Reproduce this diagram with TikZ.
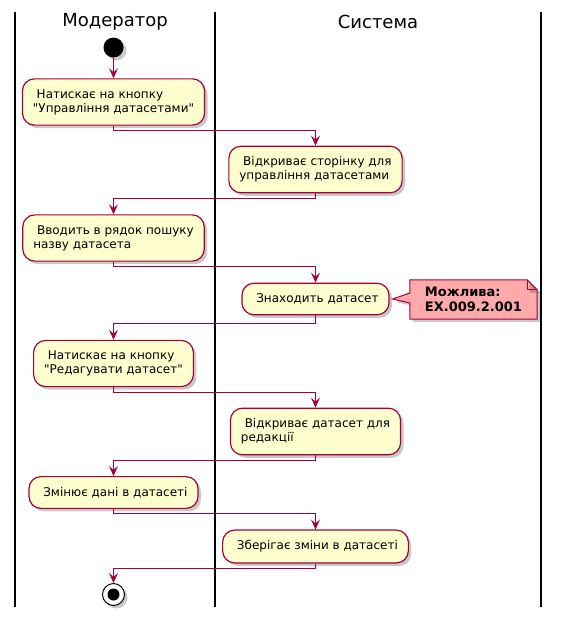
\documentclass[tikz,border=0pt]{standalone}
\usepackage{fontspec}
\setmainfont{DejaVu Sans}
\usepackage{xcolor}
\usepackage{tikz}
\usetikzlibrary{arrows.meta}
\usetikzlibrary{shapes}
\usetikzlibrary{shadows}

\definecolor{umlred}{HTML}{A80036}
\definecolor{umlfill}{HTML}{FEFECE}
\definecolor{notefill}{HTML}{FFAAAA}

\begin{document}
\begin{tikzpicture}[
	x=1pt, y=-1pt,
	font=\fontsize{12}{14}\selectfont,
	umlshadow/.style={drop shadow={shadow xshift=3pt, shadow yshift=-3pt, opacity=0.3, fill=black!70}}
]
\tikzset{
    actnode/.style = {rectangle, rounded corners=12pt, draw=umlred, fill=umlfill, line width=1.2pt, align=left, inner xsep=10.5pt, inner ysep=10.5pt, umlshadow},
		startnode/.style = {circle, fill=black, minimum size=20pt, inner sep=0pt, umlshadow},
		endnode/.style = {circle, draw=black, fill=white, line width=1pt, minimum size=22pt, inner sep=0pt, umlshadow,
			path picture={\fill[black] (path picture bounding box.center) circle (6pt);}},
		lanetitle/.style = {font=\fontsize{18}{20}\selectfont},
		lane/.style = {draw=black, line width=1.5pt},
		flow/.style = {draw=umlred, line width=1pt, -{Stealth[length=10pt,width=9pt,inset=4pt]}},
		notenode/.style = {align=left, font=\fontsize{13}{15}\selectfont\bfseries, minimum width=127pt, minimum height=39pt, inner sep=0pt},
		noteshape/.style = {draw=umlred, fill=notefill, line width=1pt, umlshadow}
}
\useasboundingbox (0,0) rectangle (560,621);

\draw[lane] (15,12) -- (15,607);
\draw[lane] (215,12) -- (215,607);
\draw[lane] (541,12) -- (541,607);
\node[lanetitle] (lanemod) at (115,22) {Модератор};
\node[lanetitle] (lanesys) at (378,22) {Система};

\node[startnode] (start) at (113.5,47.5) {};
\node[actnode] (act1) at (113.5,102) {\ Натискає на кнопку\\\textquotedbl Управління датасетами\textquotedbl};
\node[actnode] (act2) at (315.5,169.5) {\ Відкриває сторінку для\\управління датасетами};
\node[actnode] (act3) at (113.5,238) {\ Вводить в рядок пошуку\\назву датасета};
\node[actnode] (act4) at (315.5,299) {\ Знаходить датасет};
\node[actnode] (act5) at (113.5,363.5) {\ Натискає на кнопку\\\textquotedbl Редагувати датасет\textquotedbl};
\node[actnode] (act6) at (315.5,431.5) {\ Відкриває датасет для\\редакції};
\node[actnode] (act7) at (113.5,492.5) {\ Змінює дані в датасеті};
\node[actnode] (act8) at (315.5,546.5) {\ Зберігає зміни в датасеті};
\node[endnode] (stop) at (113.5,594.5) {};

\node[notenode] (note) at (473.5,299.5) {};
\filldraw[noteshape] (note.north west) -- ([xshift=-10pt]note.north east)
	-- ([yshift=-10pt]note.north east) -- (note.south east) -- (note.south west)
	-- ([yshift=-3.5pt]note.west) -- ([xshift=3pt]act4.east) -- ([yshift=6.5pt]note.west) -- cycle;
\draw[noteshape, fill=none] ([xshift=-10pt]note.north east) -- ([xshift=-10pt,yshift=-10pt]note.north east)
	-- ([yshift=-10pt]note.north east);
\node[notenode] at (note) {Можлива:\\EX.009.2.001};

\draw[flow] (start) -- (act1);
\draw[flow] (act1.south) -- ++(0,5) -| (act2.north);
\draw[flow] (act2.south) -- ++(0,5) -| (act3.north);
\draw[flow] (act3.south) -- ++(0,5) -| (act4.north);
\draw[flow] (act4.south) -- ++(0,8) -| (act5.north);
\draw[flow] (act5.south) -- ++(0,5) -| (act6.north);
\draw[flow] (act6.south) -- ++(0,5) -| (act7.north);
\draw[flow] (act7.south) -- ++(0,5) -| (act8.north);
\draw[flow] (act8.south) -- ++(0,5) -| (stop.north);
\end{tikzpicture}
\end{document}
